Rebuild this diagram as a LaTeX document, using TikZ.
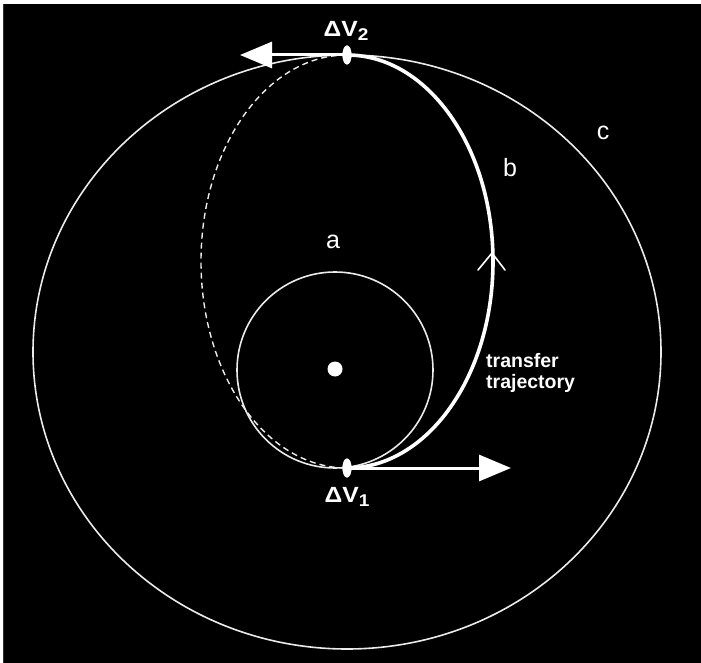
\documentclass[tikz,border=0pt]{standalone}
\usepackage{fontspec}
\setmainfont{Liberation Sans}
\usetikzlibrary{arrows.meta,shapes.geometric}
\tikzset{
  orbit/.style={draw=white!92!black, line width=1.6pt},
  transfer/.style={draw=white, line width=3.6pt},
  hidden/.style={draw=white!92!black, line width=1.4pt, dash pattern=on 6pt off 4pt},
  burn/.style={draw=white, line width=3pt, -{Triangle[length=32pt,width=26pt]}},
  marker/.style={ellipse, fill=white, inner sep=0pt, minimum width=9pt, minimum height=19pt},
  lbl/.style={text=white, font=\fontsize{25}{25}\selectfont, inner sep=0pt},
  dvlbl/.style={text=white, font=\bfseries\fontsize{22}{22}\selectfont, inner sep=0pt, xscale=1.12},
  ttlbl/.style={text=white, font=\bfseries\fontsize{19.5}{21}\selectfont, align=left, inner sep=0pt}
}
\begin{document}
\begin{tikzpicture}[x=1pt,y=-1pt]
\useasboundingbox (0,0) rectangle (701,663);
\fill[white] (0,0) rectangle (701,663);
\fill[black!80] (2.5,4) rectangle (4,663);
\fill[black] (4,4) rectangle (701,663);
% orbits
\draw[orbit] (347,352) ellipse [x radius=314pt, y radius=297pt];
\draw[orbit] (335,370) circle [radius=98pt];
% transfer ellipse
\draw[hidden] (347,55) arc[start angle=90, end angle=270, x radius=146pt, y radius=206.5pt];
\draw[transfer] (347,468) arc[start angle=-90, end angle=90, x radius=146pt, y radius=206.5pt];
\draw[draw=white, line width=1.6pt, line cap=round, line join=miter] (478,270) -- (492,253) -- (505,270);
% central body
\node[circle, fill=white, inner sep=0pt, minimum size=15pt] (sun) at (335,369) {};
% burn points
\coordinate (t2) at (240,55);
\coordinate (t1) at (511,468);
\node[marker] (dv2) at (347,55) {};
\node[marker] (dv1) at (347,468) {};
\draw[burn] (dv2.center) -- (t2);
\draw[burn] (dv1.center) -- (t1);
\node[marker] at (dv2) {};
\node[marker] at (dv1) {};
% labels
\node[dvlbl] (ldv2) at (346,31) {ΔV\raisebox{-4pt}{\fontsize{17}{17}\selectfont 2}};
\node[dvlbl] (ldv1) at (347,497) {ΔV\raisebox{-4pt}{\fontsize{17}{17}\selectfont 1}};
\node[lbl] (la) at (333,242) {a};
\node[lbl] (lb) at (510,168) {b};
\node[lbl] (lc) at (603,133) {c};
\node[ttlbl, anchor=west] (ltt) at (486,373) {transfer\\trajectory};
\end{tikzpicture}
\end{document}
